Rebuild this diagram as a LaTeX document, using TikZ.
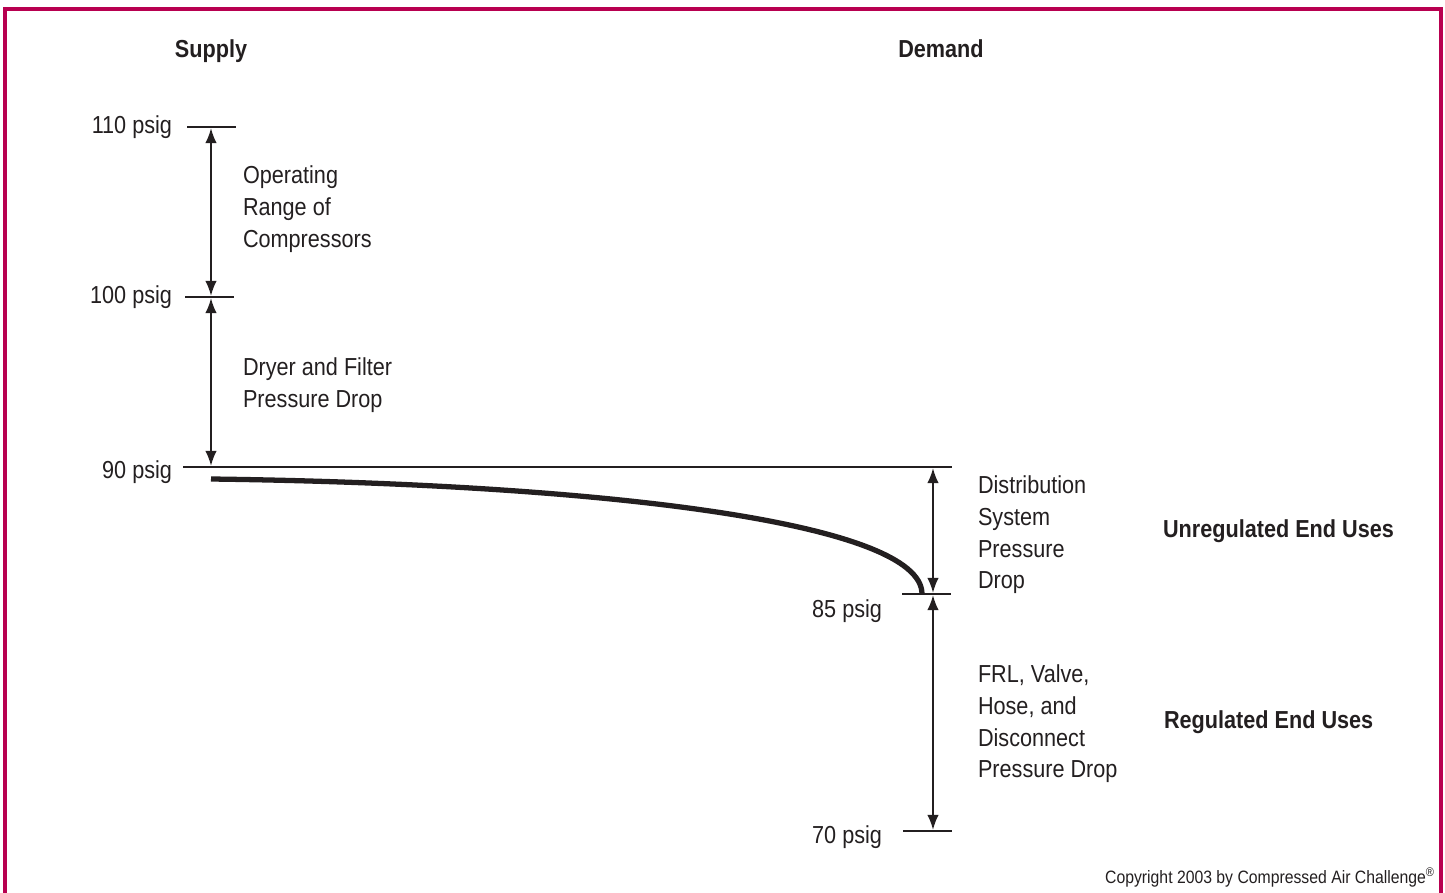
\documentclass[tikz,border=0pt]{standalone}
\usepackage{fontspec}
\setmainfont{Liberation Sans}[FakeStretch=0.88]
\usetikzlibrary{arrows.meta}
\definecolor{framered}{RGB}{184,0,80}
\definecolor{ink}{RGB}{35,31,32}
\tikzset{psiglabel/.style={anchor=base east, font=\fontsize{14}{18}\selectfont}}
\tikzset{headline/.style={anchor=base, font=\fontsize{14}{18}\selectfont\bfseries}}
\tikzset{enduse/.style={anchor=base west, font=\fontsize{14}{18}\selectfont\bfseries}}
\tikzset{dropnote/.style={anchor=north west, align=left, font=\fontsize{14}{18}\selectfont}}
\tikzset{tickline/.style={line width=1.6pt}}
\tikzset{droparrow/.style={line width=0.8pt, {Latex[length=8.5pt,width=6.5pt]}-{Latex[length=8.5pt,width=6.5pt]}, shorten <=0.7pt, shorten >=0.7pt}}
\tikzset{frameline/.style={draw=framered, line width=2pt}}

\begin{document}
\begin{tikzpicture}[x=0.02cm, y=-0.02cm, every node/.style={inner sep=0, outer sep=0, text=ink}, color=ink]
\useasboundingbox (0,0) rectangle (1445,893);
% Frame
\draw[frameline] (5,900) -- (5,9) -- (1441,9) -- (1441,900);
% Headings
\node[headline] (supply) at (211,57) {Supply};
\node[headline] (demand) at (941,57) {Demand};
%% Supply side
\node[psiglabel] (p110) at (172,133) {110 psig};
\node[psiglabel] (p100) at (172,303) {100 psig};
\node[psiglabel] (p90) at (172,478) {90 psig};
\coordinate (s110) at (211,127);
\coordinate (s100) at (211,297);
\coordinate (s90) at (211,467);
\draw[tickline] (187,127) -- (236,127);
\draw[tickline] (185,297) -- (234,297);
\draw[line width=1.4pt] (183,467) -- (952,467);
\draw[droparrow] (s110) -- (s100);
\draw[droparrow] (s100) -- (s90);
\node[dropnote] (oprange) at (243,166) {Operating\\Range of\\Compressors};
\node[dropnote] (dryer) at (243,358) {Dryer and Filter\\Pressure Drop};
%% Demand side
\node[psiglabel] (p85) at (882,617) {85 psig};
\node[psiglabel] (p70) at (882,843) {70 psig};
\coordinate (d90) at (933,467);
\coordinate (d85) at (933,594);
\coordinate (d70) at (933,831);
\draw[tickline] (902,594) -- (951,594);
\draw[tickline] (903,831) -- (952,831);
\draw[droparrow] (d90) -- (d85);
\draw[droparrow] (d85) -- (d70);
\node[dropnote] (distrib) at (978,476) {Distribution\\System\\Pressure\\Drop};
\node[dropnote] (frl) at (978,665) {FRL, Valve,\\Hose, and\\Disconnect\\Pressure Drop};
% End uses
\node[enduse] (unreg) at (1163,537) {Unregulated End Uses};
\node[enduse] (reg) at (1164,728) {Regulated End Uses};
% Pressure curve
\coordinate (cstart) at (211,479);
\coordinate (cend) at (922,594);
\draw[line width=3pt] (cstart) .. controls (600,484) and (922,522) .. (cend);
% Copyright
\node[anchor=base east, font=\fontsize{10.2}{12}\selectfont] (copy) at (1435,883) {Copyright 2003 by Compressed Air Challenge\textsuperscript{®}};
\end{tikzpicture}
\end{document}
